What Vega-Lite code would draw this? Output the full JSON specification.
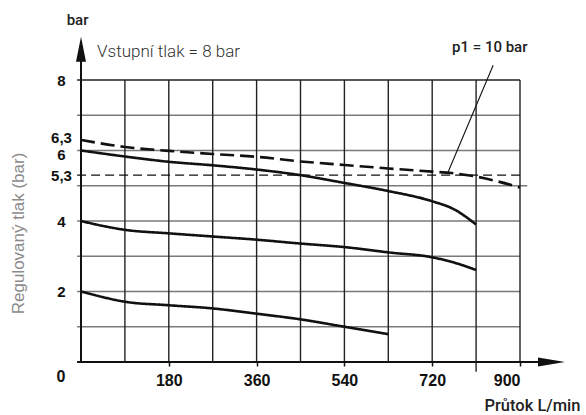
{
  "$schema": "https://vega.github.io/schema/vega-lite/v6.json",
  "width": 439,
  "height": 282,
  "autosize": {"type": "none"},
  "padding": {"left": 81, "top": 80, "right": 66, "bottom": 53},
  "background": "white",
  "config": {"view": {"stroke": null}},
  "datasets": {
    "hgrid": [
      {"v": 1, "x1": -8, "x2": 900},
      {"v": 2, "x1": -8, "x2": 900},
      {"v": 3, "x1": -8, "x2": 900},
      {"v": 4, "x1": -8, "x2": 900},
      {"v": 5, "x1": -8, "x2": 915},
      {"v": 6, "x1": -8, "x2": 900},
      {"v": 7, "x1": -8, "x2": 900}
    ],
    "vgrid": [
      {"q": 90, "y1": 0, "y2": 8},
      {"q": 180, "y1": 0, "y2": 8},
      {"q": 270, "y1": 0, "y2": 8},
      {"q": 360, "y1": 0, "y2": 8},
      {"q": 450, "y1": 0, "y2": 8},
      {"q": 540, "y1": 0, "y2": 8},
      {"q": 630, "y1": 0, "y2": 8},
      {"q": 720, "y1": 0, "y2": 8},
      {"q": 810, "y1": -0.28, "y2": 8},
      {"q": 900, "y1": 0, "y2": 8}
    ],
    "curves": [
      {"s": "p1 = 10 bar", "q": 0, "p": 6.3},
      {"s": "p1 = 10 bar", "q": 90, "p": 6.1},
      {"s": "p1 = 10 bar", "q": 180, "p": 5.99},
      {"s": "p1 = 10 bar", "q": 270, "p": 5.9},
      {"s": "p1 = 10 bar", "q": 360, "p": 5.82},
      {"s": "p1 = 10 bar", "q": 450, "p": 5.69},
      {"s": "p1 = 10 bar", "q": 540, "p": 5.59},
      {"s": "p1 = 10 bar", "q": 630, "p": 5.49},
      {"s": "p1 = 10 bar", "q": 720, "p": 5.4},
      {"s": "p1 = 10 bar", "q": 760, "p": 5.36},
      {"s": "p1 = 10 bar", "q": 810, "p": 5.26},
      {"s": "p1 = 10 bar", "q": 900, "p": 4.95},
      {"s": "6 bar", "q": 0, "p": 6.0},
      {"s": "6 bar", "q": 90, "p": 5.83},
      {"s": "6 bar", "q": 180, "p": 5.68},
      {"s": "6 bar", "q": 270, "p": 5.58},
      {"s": "6 bar", "q": 360, "p": 5.46},
      {"s": "6 bar", "q": 450, "p": 5.3},
      {"s": "6 bar", "q": 540, "p": 5.08},
      {"s": "6 bar", "q": 630, "p": 4.85},
      {"s": "6 bar", "q": 720, "p": 4.56},
      {"s": "6 bar", "q": 765, "p": 4.33},
      {"s": "6 bar", "q": 810, "p": 3.9},
      {"s": "4 bar", "q": 0, "p": 4.0},
      {"s": "4 bar", "q": 45, "p": 3.86},
      {"s": "4 bar", "q": 90, "p": 3.75},
      {"s": "4 bar", "q": 180, "p": 3.65},
      {"s": "4 bar", "q": 270, "p": 3.56},
      {"s": "4 bar", "q": 360, "p": 3.47},
      {"s": "4 bar", "q": 450, "p": 3.36},
      {"s": "4 bar", "q": 540, "p": 3.26},
      {"s": "4 bar", "q": 630, "p": 3.11},
      {"s": "4 bar", "q": 720, "p": 2.97},
      {"s": "4 bar", "q": 765, "p": 2.82},
      {"s": "4 bar", "q": 810, "p": 2.61},
      {"s": "2 bar", "q": 0, "p": 2.0},
      {"s": "2 bar", "q": 45, "p": 1.84},
      {"s": "2 bar", "q": 90, "p": 1.71},
      {"s": "2 bar", "q": 180, "p": 1.61},
      {"s": "2 bar", "q": 270, "p": 1.52},
      {"s": "2 bar", "q": 360, "p": 1.37},
      {"s": "2 bar", "q": 450, "p": 1.21},
      {"s": "2 bar", "q": 540, "p": 1.0},
      {"s": "2 bar", "q": 630, "p": 0.79}
    ]
  },
  "layer": [
    {
      "data": {"name": "hgrid"},
      "mark": {"type": "rule", "color": "#7a7a7a", "strokeWidth": 1.5},
      "encoding": {
        "y": {"field": "v", "type": "quantitative", "scale": {"domain": [0, 8], "nice": false, "zero": false},
          "axis": {"values": [2, 4, 5.3, 6, 6.3, 8], "labelExpr": "replace(toString(datum.value), '.', ',')", "ticks": false, "domain": false, "grid": false, "labelOverlap": false, "labelBound": false,
            "labelFont": "Liberation Sans", "labelFontWeight": "bold", "labelFontSize": 15, "labelColor": "#111", "labelPadding": 20, "labelAlign": "center",
            "labelOffset": {"condition": [{"test": "datum.value == 6", "value": 3.5}, {"test": "datum.value == 6.3", "value": -2.5}], "value": 0},
            "title": "Regulovaný tlak (bar)", "titleFont": "Liberation Sans", "titleFontWeight": "normal", "titleFontSize": 17, "titleColor": "#8a8a8a",
            "titleX": -63, "titleY": 153, "titleAngle": 270, "titleAlign": "center", "titleBaseline": "middle"}},
        "x": {"field": "x1", "type": "quantitative", "scale": {"domain": [0, 900], "nice": false, "zero": false},
          "axis": {"values": [180, 360, 540, 720, 900], "ticks": true, "tickSize": 4, "tickColor": "#111", "tickWidth": 1.5, "domain": false, "grid": false, "labelOverlap": false,
            "labelFont": "Liberation Sans", "labelFontWeight": "bold", "labelFontSize": 16, "labelColor": "#111", "labelPadding": 6,
            "title": "Průtok L/min", "titleFont": "Roboto", "titleFontWeight": 500, "titleFontSize": 16.5, "titleColor": "#222",
            "titleX": 499, "titleY": 43, "titleAlign": "right", "titleBaseline": "middle", "titleAnchor": null}},
        "x2": {"field": "x2"}
      }
    },
    {
      "data": {"values": [{"v": 8, "x1": -8, "x2": 900}]},
      "mark": {"type": "rule", "color": "#222", "strokeWidth": 1.5},
      "encoding": {
        "y": {"field": "v", "type": "quantitative"},
        "x": {"field": "x1", "type": "quantitative"},
        "x2": {"field": "x2"}
      }
    },
    {
      "data": {"name": "vgrid"},
      "mark": {"type": "rule", "color": "#222", "strokeWidth": 1.4},
      "encoding": {
        "x": {"field": "q", "type": "quantitative"},
        "y": {"field": "y1", "type": "quantitative"},
        "y2": {"field": "y2"}
      }
    },
    {
      "data": {"values": [{"v": 5.3, "x1": -8, "x2": 900}]},
      "mark": {"type": "rule", "color": "#111", "strokeWidth": 1.3, "strokeDash": [9, 5]},
      "encoding": {
        "y": {"field": "v", "type": "quantitative"},
        "x": {"field": "x1", "type": "quantitative"},
        "x2": {"field": "x2"}
      }
    },
    {
      "data": {"values": [{"v": 0, "x1": -8, "x2": 960}]},
      "mark": {"type": "rule", "color": "#111", "strokeWidth": 2},
      "encoding": {
        "y": {"field": "v", "type": "quantitative"},
        "x": {"field": "x1", "type": "quantitative"},
        "x2": {"field": "x2"}
      }
    },
    {
      "data": {"values": [{"q": 0, "y1": 0, "y2": 8.9}]},
      "mark": {"type": "rule", "color": "#111", "strokeWidth": 2},
      "encoding": {
        "x": {"field": "q", "type": "quantitative"},
        "y": {"field": "y1", "type": "quantitative"},
        "y2": {"field": "y2"}
      }
    },
    {
      "data": {"values": [{"q": 0, "p": 8.87}]},
      "mark": {"type": "point", "shape": "M0,-1L0.4,1L-0.4,1Z", "size": 625, "filled": true, "color": "#111", "opacity": 1, "strokeWidth": 0},
      "encoding": {
        "x": {"field": "q", "type": "quantitative"},
        "y": {"field": "p", "type": "quantitative"}
      }
    },
    {
      "data": {"values": [{"q": 964.6, "p": 0}]},
      "mark": {"type": "point", "shape": "M1,0L-1,-0.33L-1,0.33Z", "size": 729, "filled": true, "color": "#111", "opacity": 1, "strokeWidth": 0},
      "encoding": {
        "x": {"field": "q", "type": "quantitative"},
        "y": {"field": "p", "type": "quantitative"}
      }
    },
    {
      "data": {"name": "curves"},
      "mark": {"type": "line", "color": "#111", "strokeWidth": 2.6, "interpolate": "monotone"},
      "encoding": {
        "x": {"field": "q", "type": "quantitative"},
        "y": {"field": "p", "type": "quantitative"},
        "detail": {"field": "s", "type": "nominal"},
        "strokeDash": {"field": "s", "type": "nominal", "legend": null,
          "scale": {"domain": ["p1 = 10 bar", "6 bar", "4 bar", "2 bar"], "range": [[14, 6], [1, 0], [1, 0], [1, 0]]}}
      }
    },
    {
      "data": {"values": [{"q": 752, "p": 5.37}, {"q": 845, "p": 8.42}]},
      "mark": {"type": "line", "color": "#111", "strokeWidth": 1.1},
      "encoding": {
        "x": {"field": "q", "type": "quantitative"},
        "y": {"field": "p", "type": "quantitative"}
      }
    },
    {
      "data": {"values": [{"t": "p1 = 10 bar", "q": 838, "p": 8.94}]},
      "mark": {"type": "text", "font": "Roboto", "fontSize": 15, "fontWeight": 500, "color": "#222", "align": "center", "baseline": "middle"},
      "encoding": {
        "x": {"field": "q", "type": "quantitative"},
        "y": {"field": "p", "type": "quantitative"},
        "text": {"field": "t"}
      }
    },
    {
      "data": {"values": [{"t": "Vstupní tlak = 8 bar", "q": 33, "p": 8.8}]},
      "mark": {"type": "text", "font": "Roboto", "fontSize": 17, "fontWeight": 300, "color": "#333", "align": "left", "baseline": "middle"},
      "encoding": {
        "x": {"field": "q", "type": "quantitative"},
        "y": {"field": "p", "type": "quantitative"},
        "text": {"field": "t"}
      }
    },
    {
      "data": {"values": [{"t": "bar", "q": -7, "p": 9.7}]},
      "mark": {"type": "text", "font": "Roboto", "fontSize": 15, "fontWeight": 500, "color": "#222", "align": "center", "baseline": "middle"},
      "encoding": {
        "x": {"field": "q", "type": "quantitative"},
        "y": {"field": "p", "type": "quantitative"},
        "text": {"field": "t"}
      }
    },
    {
      "data": {"values": [{"t": "0", "q": -41, "p": -0.43}]},
      "mark": {"type": "text", "font": "Liberation Sans", "fontSize": 16, "fontWeight": "bold", "color": "#111", "align": "center", "baseline": "middle"},
      "encoding": {
        "x": {"field": "q", "type": "quantitative"},
        "y": {"field": "p", "type": "quantitative"},
        "text": {"field": "t"}
      }
    }
  ]
}
